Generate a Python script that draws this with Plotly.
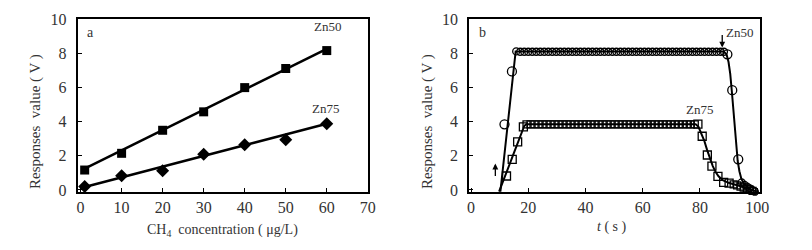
import plotly.graph_objects as go

# ---------------- Panel a data ----------------
conc = [1, 10, 20, 30, 40, 50, 60]
zn50_conc_resp = [1.17, 2.15, 3.5, 4.58, 6.0, 7.12, 8.17]
zn75_conc_resp = [0.2, 0.84, 1.13, 2.1, 2.65, 2.94, 3.88]
fit_conc = [1, 60]
zn50_fit = [1.25, 8.27]
zn75_fit = [0.18, 3.88]

# ---------------- Panel b data ----------------
# Zn50 (circles)
zn50_t_big = [10.0, 11.7, 14.3, 89.6, 91.3, 93.4]
zn50_v_big = [-0.2, 3.85, 6.95, 7.95, 5.85, 1.8]
zn50_t_plat = [15.8, 17.2, 18.6, 20.0, 21.4, 22.8, 24.2, 25.6, 27.0, 28.4, 29.8, 31.2,
               32.6, 34.0, 35.4, 36.8, 38.2, 39.6, 41.0, 42.4, 43.8, 45.2, 46.6, 48.0,
               49.4, 50.8, 52.2, 53.6, 55.0, 56.4, 57.8, 59.2, 60.6, 62.0, 63.4, 64.8,
               66.2, 67.6, 69.0, 70.4, 71.8, 73.2, 74.6, 76.0, 77.4, 78.8, 80.2, 81.6,
               83.0, 84.4, 85.8, 87.2, 88.4]
zn50_v_plat = [8.12, 8.1, 8.1, 8.1, 8.1, 8.1, 8.1, 8.1, 8.1, 8.1, 8.1, 8.1,
               8.1, 8.1, 8.1, 8.1, 8.1, 8.1, 8.1, 8.1, 8.1, 8.1, 8.1, 8.1,
               8.1, 8.1, 8.1, 8.1, 8.1, 8.1, 8.1, 8.1, 8.1, 8.1, 8.1, 8.1,
               8.1, 8.1, 8.1, 8.1, 8.1, 8.1, 8.1, 8.1, 8.1, 8.1, 8.1, 8.1,
               8.1, 8.1, 8.1, 8.1, 8.1]
zn50_t_tail = [94.6, 95.6, 96.5, 97.4, 98.3, 99.2, 100.0]
zn50_v_tail = [0.45, 0.3, 0.2, 0.1, 0.0, -0.1, -0.2]
zn50_line_t = [10.2, 15.6, 88.3, 89.3, 90.0, 90.6, 91.2, 91.7, 92.2, 92.7, 93.2, 93.8,
               94.5, 95.5, 97.0, 100.0]
zn50_line_v = [-0.2, 8.12, 8.12, 7.95, 7.5, 6.8, 5.7, 4.6, 3.5, 2.5, 1.7, 1.1,
               0.65, 0.35, 0.1, -0.15]

# Zn75 (squares)
zn75_t_big = [10.0, 12.4, 14.4, 16.3, 18.3, 79.3, 80.8, 82.6, 84.2, 86.3, 88.3, 90.2]
zn75_v_big = [-0.2, 0.82, 1.8, 2.82, 3.7, 3.86, 3.15, 2.05, 1.4, 0.8, 0.45, 0.4]
zn75_t_plat = [19.4, 20.8, 22.2, 23.6, 25.0, 26.4, 27.8, 29.2, 30.6, 32.0, 33.4, 34.8,
               36.2, 37.6, 39.0, 40.4, 41.8, 43.2, 44.6, 46.0, 47.4, 48.8, 50.2, 51.6,
               53.0, 54.4, 55.8, 57.2, 58.6, 60.0, 61.4, 62.8, 64.2, 65.6, 67.0, 68.4,
               69.8, 71.2, 72.6, 74.0, 75.4, 76.8, 78.2]
zn75_v_plat = [3.84, 3.85, 3.85, 3.85, 3.85, 3.85, 3.85, 3.85, 3.85, 3.85, 3.85, 3.85,
               3.85, 3.85, 3.85, 3.85, 3.85, 3.85, 3.85, 3.85, 3.85, 3.85, 3.85, 3.85,
               3.85, 3.85, 3.85, 3.85, 3.85, 3.85, 3.85, 3.85, 3.85, 3.85, 3.85, 3.85,
               3.85, 3.85, 3.85, 3.85, 3.85, 3.85, 3.85]
zn75_t_tail = [91.8, 93.0, 94.2, 95.3, 96.4, 97.4, 98.4, 99.3, 100.2]
zn75_v_tail = [0.33, 0.27, 0.2, 0.14, 0.08, 0.02, -0.05, -0.12, -0.2]
zn75_line_t = [9.8, 18.6, 19.3, 78.5, 79.5, 80.5, 81.5, 82.5, 83.5, 84.5, 85.5, 86.5,
               88.0, 90.0, 93.0, 96.5, 100.0]
zn75_line_v = [-0.1, 3.75, 3.86, 3.86, 3.7, 3.35, 2.9, 2.35, 1.85, 1.4, 1.05, 0.8,
               0.58, 0.42, 0.28, 0.12, -0.1]

tick_y = [0, 2, 4, 6, 8, 10]
tick_xa = [0, 10, 20, 30, 40, 50, 60, 70]
tick_xb = [0, 20, 40, 60, 80, 100]

FONT = "Liberation Serif"
TXT = "#333333"

# The page body has an 8px default margin; the figure is placed at (8, 8).
W, H, OFF = 804, 234, 8


def px_x(x):
    return (x - OFF) / W


def px_y(y):
    return 1 - (y - OFF) / H


fig = go.Figure()

# ---- panel a ----
fig.add_trace(go.Scatter(x=fit_conc, y=zn50_fit, mode="lines",
                         line=dict(color="black", width=2.5), xaxis="x", yaxis="y"))
fig.add_trace(go.Scatter(x=fit_conc, y=zn75_fit, mode="lines",
                         line=dict(color="black", width=2.5), xaxis="x", yaxis="y"))
fig.add_trace(go.Scatter(x=conc, y=zn50_conc_resp, mode="markers",
                         marker=dict(symbol="square", size=9, color="black"),
                         xaxis="x", yaxis="y", cliponaxis=False))
fig.add_trace(go.Scatter(x=conc, y=zn75_conc_resp, mode="markers",
                         marker=dict(symbol="diamond", size=10, color="black"),
                         xaxis="x", yaxis="y", cliponaxis=False))

# ---- panel b ----
open_circ = dict(symbol="circle-open", color="black", line=dict(width=1.3))
open_sq = dict(symbol="square-open", color="black", line=dict(width=1.3))
fig.add_trace(go.Scatter(x=zn50_line_t, y=zn50_line_v, mode="lines",
                         line=dict(color="black", width=2), xaxis="x2", yaxis="y2"))
fig.add_trace(go.Scatter(x=zn75_line_t, y=zn75_line_v, mode="lines",
                         line=dict(color="black", width=2), xaxis="x2", yaxis="y2"))
fig.add_trace(go.Scatter(x=zn50_t_plat, y=zn50_v_plat, mode="markers",
                         marker=dict(size=7, **open_circ), xaxis="x2", yaxis="y2", cliponaxis=False))
fig.add_trace(go.Scatter(x=zn75_t_plat, y=zn75_v_plat, mode="markers",
                         marker=dict(size=7, **open_sq), xaxis="x2", yaxis="y2", cliponaxis=False))
fig.add_trace(go.Scatter(x=zn75_t_big, y=zn75_v_big, mode="markers",
                         marker=dict(size=8, **open_sq), xaxis="x2", yaxis="y2", cliponaxis=False))
fig.add_trace(go.Scatter(x=zn75_t_tail, y=zn75_v_tail, mode="markers",
                         marker=dict(size=7, **open_sq), xaxis="x2", yaxis="y2", cliponaxis=False))
fig.add_trace(go.Scatter(x=zn50_t_big, y=zn50_v_big, mode="markers",
                         marker=dict(size=9, **open_circ), xaxis="x2", yaxis="y2", cliponaxis=False))
fig.add_trace(go.Scatter(x=zn50_t_tail, y=zn50_v_tail, mode="markers",
                         marker=dict(size=7, **open_circ), xaxis="x2", yaxis="y2", cliponaxis=False))

axis_common = dict(showgrid=False, zeroline=False, showline=True, linecolor="black",
                   linewidth=2, mirror=True, ticks="inside", ticklen=4, tickcolor="black",
                   tickwidth=1, automargin=False, layer="below traces",
                   tickfont=dict(family=FONT, size=16, color=TXT))

ydom = [px_y(191.7), px_y(18.5)]
fig.update_layout(
    width=W, height=H,
    margin=dict(l=0, r=0, t=0, b=0, autoexpand=False),
    paper_bgcolor="white", plot_bgcolor="white",
    showlegend=False,
    xaxis=dict(domain=[px_x(77.7), px_x(368)], range=[-0.7, 70.05], tickvals=tick_xa,
               anchor="y", **axis_common),
    yaxis=dict(domain=ydom, range=[-0.1, 10.05], tickvals=tick_y, anchor="x",
               ticklabelstandoff=6, **axis_common),
    xaxis2=dict(domain=[px_x(469.3), px_x(760)], range=[-0.6, 101], tickvals=tick_xb,
                anchor="y2", **axis_common),
    yaxis2=dict(domain=ydom, range=[-0.1, 10.05], tickvals=tick_y, anchor="x2",
                ticklabelstandoff=6, **axis_common),
)


def txt(text, x, y, xref, yref, size=13, **kw):
    fig.add_annotation(text=text, x=x, y=y, xref=xref, yref=yref, showarrow=False,
                       xanchor="center", yanchor="middle",
                       font=dict(family=FONT, size=size, color=TXT), **kw)


# in-plot labels
txt("a", 2.3, 9.2, "x", "y", size=14)
txt("Zn50", 60.3, 9.6, "x", "y", size=13)
txt("Zn75", 59.8, 4.75, "x", "y", size=13)
txt("b", 4.0, 9.2, "x2", "y2", size=14)
txt("Zn50", 93.8, 9.25, "x2", "y2", size=13)
txt("Zn75", 80.0, 4.7, "x2", "y2", size=13)

# arrows
fig.add_annotation(x=8.5, y=1.55, xref="x2", yref="y2", ax=0, ay=14, showarrow=True,
                   arrowhead=2, arrowsize=0.9, arrowwidth=1.3, arrowcolor="black", text="")
fig.add_annotation(x=87.8, y=8.35, xref="x2", yref="y2", ax=0, ay=-14, showarrow=True,
                   arrowhead=2, arrowsize=0.9, arrowwidth=1.3, arrowcolor="black", text="")

# axis titles
ytitle = "Responses\u00a0\u00a0value\u00a0( V )"
txt(ytitle, px_x(35), px_y(122), "paper", "paper", size=15, textangle=-90)
txt(ytitle, px_x(427), px_y(122), "paper", "paper", size=15, textangle=-90)
txt("CH<sub>4</sub>\u00a0\u00a0concentration\u00a0( μg/L)", px_x(223), px_y(230),
    "paper", "paper", size=14)
txt("<i>t</i>\u00a0( s )", px_x(612), px_y(227), "paper", "paper", size=14)

fig.write_html("out.html")
